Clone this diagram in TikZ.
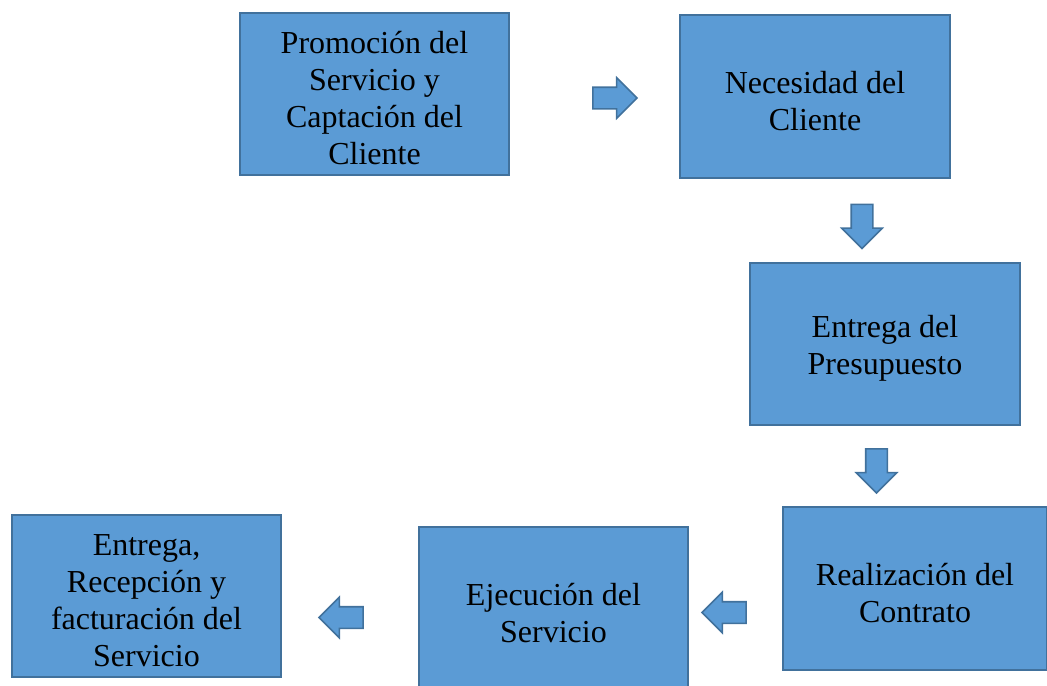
\documentclass[tikz,border=0pt]{standalone}
\usepackage{fontspec}
\setmainfont{Liberation Serif}
\usetikzlibrary{shapes.arrows}

\definecolor{cajaazul}{HTML}{5B9BD5}
\definecolor{bordeazul}{HTML}{41719C}
\newcommand{\alto}{\rule{0pt}{23pt}}

\begin{document}
\begin{tikzpicture}[x=0.75pt,y=-0.75pt,
  caja/.style={draw=bordeazul,fill=cajaazul,line width=1.5pt,
    minimum width=202pt,minimum height=122pt,align=center,
    font=\fontsize{24}{27.75}\selectfont},
  flecha/.style={single arrow,draw=bordeazul,fill=cajaazul,line width=1.2pt,
    minimum width=30pt,minimum height=33pt,inner sep=7.5pt}]

%\draw[help lines,step=50] (0,0) grid (1047,686);
\useasboundingbox (0,0) rectangle (1047,686);
\clip (0,0) rectangle (1047,686);

\node[caja] (promo) at (374.5,94) {\alto Promoción del\\Servicio y\\Captación del\\Cliente};
\node[caja] (necesidad) at (815,96.5) {\alto Necesidad del\\Cliente};
\node[caja] (presupuesto) at (885,344) {\alto Entrega del\\Presupuesto};
\node[caja,minimum width=198pt] (contrato) at (915,588.5) {\alto Realización del\\Contrato};
\node[caja] (ejecucion) at (553.5,608.5) {\alto Ejecución del\\Servicio};
\node[caja] (entrega) at (146.5,596) {\alto Entrega,\\Recepción y\\facturación del\\Servicio};

\node[flecha] (f1) at (609.5,98) {};
\node[flecha,rotate=-90] (f2) at (862,221) {};
\node[flecha,rotate=-90] (f3) at (876.5,465.5) {};
\node[flecha,rotate=180] (f4) at (729.5,612.5) {};
\node[flecha,rotate=180] (f5) at (346.5,617.5) {};

\end{tikzpicture}
\end{document}
